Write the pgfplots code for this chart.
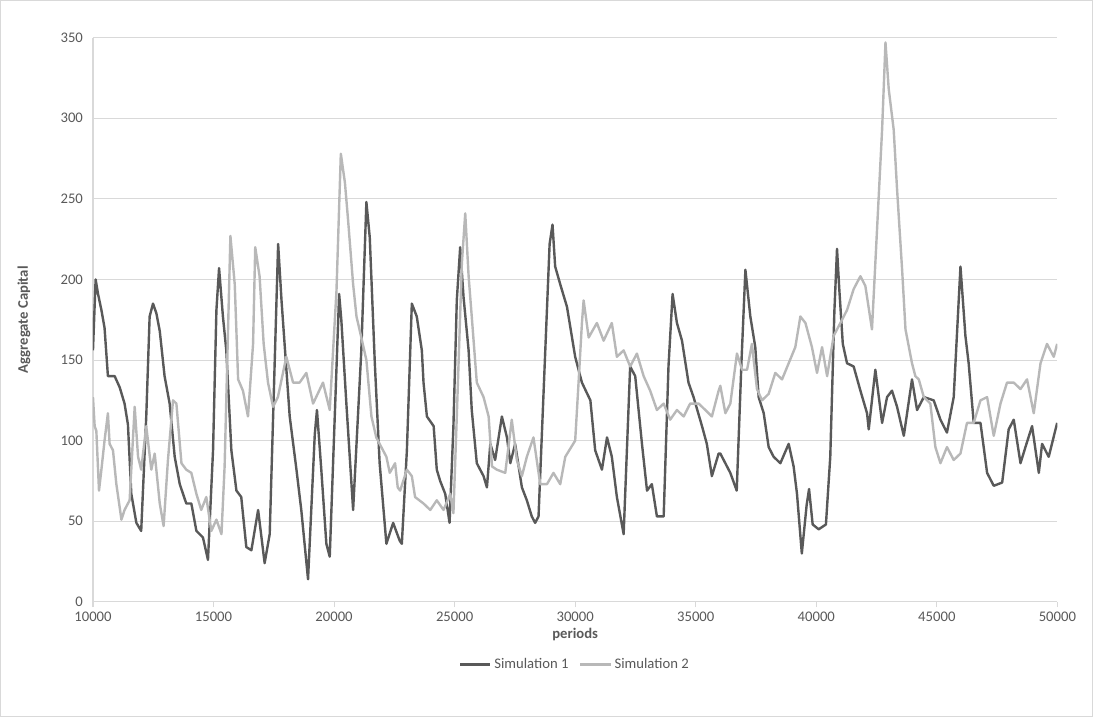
\documentclass[border=0pt]{standalone}
\usepackage{pgfplots}
\pgfplotsset{compat=1.18}
\usepackage{fontspec}
\setmainfont{Carlito}
\definecolor{simA}{HTML}{595959}
\definecolor{simB}{HTML}{B8B8B8}
\definecolor{gridc}{HTML}{D9D9D9}
\definecolor{tickc}{HTML}{595959}
\begin{document}
\begin{tikzpicture}
\draw[gridc] (-69.5pt,-86pt) rectangle (749.5pt,451pt);
\begin{axis}[
  scale only axis, width=723pt, height=423pt,
  xmin=10000, xmax=50000, ymin=0, ymax=350,
  xtick={10000,15000,...,50000}, ytick={0,50,...,350},
  scaled x ticks=false,
  /pgf/number format/assume math mode=true,
  xticklabel={\pgfmathprintnumber[fixed,1000 sep={}]{\tick}},
  ymajorgrids, grid style={gridc, line width=0.8pt},
  axis line style={gridc, line width=0.8pt},
  axis x line*=bottom, axis y line*=left,
  x axis line style={-}, y axis line style={-},
  xtick style={gridc, line width=0.8pt}, ytick style={draw=none},
  tick align=outside, major tick length=4pt,
  ticklabel style={font=\fontsize{11}{13}\selectfont, text=tickc},
  xlabel={\textbf{periods}}, ylabel={\textbf{Aggregate Capital}},
  label style={font=\fontsize{11}{13}\selectfont, text=tickc},
  xlabel style={at={(axis description cs:0.5,-0.038)}, anchor=north},
  ylabel style={at={(axis description cs:-0.06,0.5)}, anchor=south},
  legend style={at={(axis description cs:0.5,-0.111)}, anchor=center, draw=none, font=\fontsize{11}{13}\selectfont, text=tickc, legend columns=2, /tikz/every even column/.append style={column sep=6pt}},
  legend image code/.code={\draw[#1, line width=1.8pt] (0cm,0cm) -- (0.8cm,0cm);},
  every axis plot/.append style={line width=1.8pt, line join=round},
]
\addplot[simA] coordinates {
(10000,156)(10110,200)(10210,191)(10350,181)(10480,170)(10620,140)(10900,140)(11110,133)(11310,123)(11450,110)(11590,67)(11800,49)(12000,44)(12210,115)(12350,177)(12490,185)(12630,179)(12770,168)(12970,140)(13180,123)(13390,90)(13600,73)(13870,61)(14080,61)(14290,44)(14560,40)(14770,26)(14980,94)(15120,181)(15230,207)(15390,177)(15530,156)(15740,94)(15950,69)(16150,65)(16360,34)(16570,32)(16850,57)(17120,24)(17330,42)(17680,222)(17820,187)(18160,115)(18440,82)(18640,57)(18920,14)(19200,104)(19290,119)(19470,82)(19680,36)(19820,28)(20210,191)(20300,175)(20510,123)(20790,57)(21130,156)(21340,248)(21480,226)(21690,148)(21890,86)(22170,36)(22450,49)(22720,38)(22810,36)(23020,94)(23225,185)(23430,177)(23640,156)(23710,136)(23850,115)(24130,109)(24260,82)(24400,75)(24610,67)(24790,49)(24950,109)(25090,187)(25230,220)(25370,189)(25580,156)(25710,119)(25920,86)(26200,78)(26340,71)(26480,98)(26680,88)(26960,115)(27170,102)(27310,86)(27510,98)(27790,71)(27995,63)(28200,53)(28340,49)(28480,53)(28760,156)(28940,222)(29060,234)(29170,208)(29380,197)(29660,183)(30000,152)(30280,136)(30630,125)(30830,94)(31110,82)(31320,102)(31520,90)(31730,65)(32010,42)(32280,146)(32490,140)(32770,98)(32980,69)(33180,73)(33390,53)(33670,53)(33870,146)(34040,191)(34220,173)(34430,162)(34700,136)(34910,127)(35260,109)(35460,98)(35670,78)(35950,92)(36020,92)(36435,80)(36700,69)(36900,150)(37060,206)(37265,177)(37470,158)(37610,127)(37820,117)(38025,96)(38230,90)(38510,86)(38855,98)(39060,84)(39200,67)(39400,30)(39600,60)(39700,70)(39850,48)(40100,45)(40400,48)(40580,90)(40750,180)(40860,219)(40950,195)(41100,160)(41275,148)(41550,146)(41830,131)(42105,117)(42175,107)(42450,144)(42730,111)(42935,127)(43140,131)(43350,121)(43630,103)(43970,138)(44180,119)(44460,127)(44870,125)(45150,113)(45420,105)(45700,127)(45980,208)(46185,165)(46320,148)(46530,111)(46810,111)(47085,80)(47360,72)(47710,74)(47980,107)(48190,113)(48470,86)(48675,96)(48950,109)(49230,80)(49365,98)(49640,90)(49990,111)
};
\addlegendentry{Simulation 1}
\addplot[simB] coordinates {
(10000,127)(10070,109)(10140,106)(10250,69)(10350,82)(10480,100)(10620,117)(10690,98)(10830,94)(10970,73)(11180,51)(11310,57)(11520,63)(11730,121)(11870,90)(12000,82)(12210,109)(12420,82)(12560,92)(12770,61)(12930,47)(13110,88)(13320,125)(13460,123)(13670,86)(13870,82)(14080,80)(14290,67)(14490,57)(14700,65)(14910,44)(15120,51)(15330,42)(15460,84)(15700,227)(15880,197)(16020,138)(16220,131)(16430,115)(16640,160)(16730,220)(16910,202)(17080,160)(17260,136)(17470,121)(17670,127)(18020,152)(18300,136)(18570,136)(18850,142)(19130,123)(19540,136)(19820,119)(20100,193)(20280,278)(20450,260)(20580,237)(20790,197)(20930,177)(21130,164)(21340,150)(21550,115)(21750,102)(22170,90)(22310,80)(22530,86)(22640,71)(22740,69)(23020,82)(23225,78)(23360,65)(23710,61)(23990,57)(24260,63)(24540,57)(24820,67)(24950,55)(25090,115)(25300,210)(25440,241)(25580,202)(25710,177)(25920,136)(26200,127)(26410,115)(26550,84)(26750,82)(27100,80)(27370,113)(27580,88)(27790,78)(27995,90)(28270,102)(28550,73)(28830,73)(29100,80)(29380,73)(29590,90)(30000,100)(30140,136)(30280,173)(30350,187)(30560,164)(30900,173)(31180,162)(31520,173)(31730,152)(32010,156)(32280,146)(32560,154)(32840,140)(33110,131)(33390,119)(33670,123)(33940,113)(34220,119)(34500,115)(34770,123)(35120,123)(35400,119)(35670,115)(35950,131)(36020,134)(36230,117)(36435,123)(36710,154)(36920,144)(37130,144)(37330,160)(37540,132)(37750,125)(38025,129)(38300,142)(38580,138)(38855,148)(39130,158)(39340,177)(39550,173)(39820,158)(40030,142)(40240,158)(40450,140)(40720,165)(41000,173)(41275,181)(41550,194)(41830,202)(42035,196)(42310,169)(42520,231)(42730,293)(42870,347)(43005,318)(43210,293)(43350,256)(43560,206)(43700,169)(43970,148)(44110,140)(44250,138)(44460,127)(44730,123)(44940,96)(45150,86)(45420,96)(45700,88)(45980,92)(46250,111)(46530,111)(46810,125)(47085,127)(47360,103)(47640,123)(47910,136)(48190,136)(48470,132)(48740,138)(49020,117)(49300,148)(49570,160)(49850,152)(49990,160)
};
\addlegendentry{Simulation 2}
\end{axis}
\end{tikzpicture}
\end{document}
